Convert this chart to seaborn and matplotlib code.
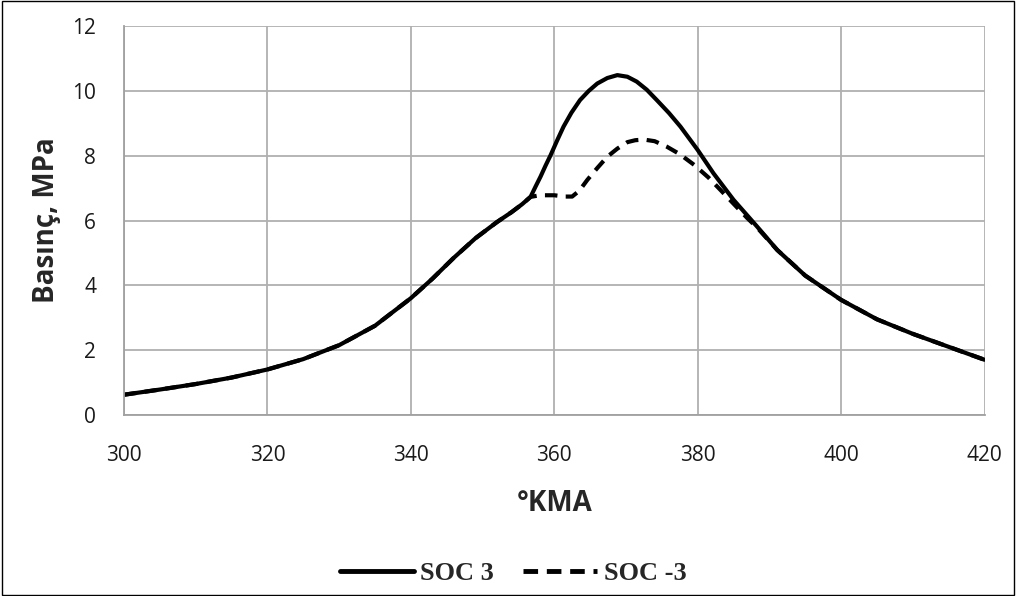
import numpy as np
import pandas as pd
import matplotlib
matplotlib.use("Agg")
import matplotlib.pyplot as plt
import seaborn as sns
from matplotlib.lines import Line2D

# Data
x_soc3 = [300, 305, 310, 315, 320, 325, 330, 335, 340, 343, 346, 349, 352, 354, 355.5, 356.7,
          357.4, 358.1, 358.8, 359.5, 360.4, 361.3, 362.4, 363.6, 364.8, 366, 367.4, 368.8,
          370.2, 371.5, 372.9, 374.3, 376, 377.6, 380, 382.2, 385, 388.3, 391.1,
          395, 400, 405, 410, 415, 420]
y_soc3 = [0.62, 0.78, 0.95, 1.15, 1.4, 1.72, 2.15, 2.75, 3.6, 4.2, 4.85, 5.45, 5.95, 6.25, 6.5, 6.73,
          7.05, 7.36, 7.7, 8.02, 8.47, 8.9, 9.33, 9.72, 10.0, 10.23, 10.4, 10.49,
          10.44, 10.29, 10.04, 9.72, 9.32, 8.9, 8.18, 7.46, 6.64, 5.81, 5.09,
          4.3, 3.55, 2.95, 2.5, 2.1, 1.7]

x_soc_m3 = [300, 305, 310, 315, 320, 325, 330, 335, 340, 343, 346, 349, 352, 354, 355.5, 356.7,
            358, 360, 361.5, 362.5, 363.5, 364.6, 366, 367.4, 368.8, 370.2, 371.3, 372.5,
            374, 375.7, 377.5, 379.5, 381.5, 383.2, 385, 386.9, 388.3, 391.1, 395, 400,
            405, 410, 415, 420]
y_soc_m3 = [0.62, 0.78, 0.95, 1.15, 1.4, 1.72, 2.15, 2.75, 3.6, 4.2, 4.85, 5.45, 5.95, 6.25, 6.5, 6.73,
            6.78, 6.78, 6.74, 6.74, 6.92, 7.25, 7.62, 7.97, 8.22, 8.42, 8.48, 8.5,
            8.45, 8.28, 8.05, 7.72, 7.33, 6.94, 6.52, 6.08, 5.78, 5.09, 4.3, 3.55,
            2.95, 2.5, 2.1, 1.7]

series_names = ["SOC 3", "SOC -3"]
x_ticks = [300, 320, 340, 360, 380, 400, 420]
y_ticks = [0, 2, 4, 6, 8, 10, 12]

df = pd.concat([
    pd.DataFrame({"x": x_soc3, "y": y_soc3, "s": series_names[0]}),
    pd.DataFrame({"x": x_soc_m3, "y": y_soc_m3, "s": series_names[1]}),
], ignore_index=True)

sns.set_style("white")
plt.rcParams["font.family"] = ["Open Sans", "DejaVu Sans"]

fig = plt.figure(figsize=(10.16, 5.96), dpi=100)
ax = fig.add_axes([0.122, 0.304, 0.847, 0.652])

sns.lineplot(data=df, x="x", y="y", hue="s", style="s", palette=["black", "black"],
             dashes={"SOC 3": "", "SOC -3": (3, 2)}, linewidth=3, sort=False,
             estimator=None, ax=ax, legend=False)
for ln in ax.get_lines():
    ln.set_solid_joinstyle("round")
    ln.set_dash_joinstyle("round")

ax.set_xlim(300, 420)
ax.set_ylim(0, 12)
ax.set_xticks(x_ticks)
ax.set_yticks(y_ticks)
ax.grid(True, color="#b0b0b0", linewidth=1.3)
for side in ["top", "right"]:
    ax.spines[side].set_visible(False)
for side in ["left", "bottom"]:
    ax.spines[side].set_color("#a0a0a0")
    ax.spines[side].set_linewidth(1.3)
ax.tick_params(axis="both", which="both", length=6, width=1.2, color="#a0a0a0",
               direction="out", labelsize=15, labelcolor="#1a1a1a")
ax.tick_params(axis="x", pad=16)
ax.tick_params(axis="y", pad=14)
ax.set_xlabel("°KMA", fontsize=20, fontweight="bold", labelpad=16)
ax.set_ylabel("Basınç, MPa", fontsize=20, fontweight="bold", labelpad=8)

# Legend
handles = [Line2D([], [], color="black", linewidth=3.5),
           Line2D([], [], color="black", linewidth=3.5, dashes=(3.0, 1.8))]
leg = fig.legend(handles, series_names, loc="center", bbox_to_anchor=(0.505, 0.038),
                 ncol=2, frameon=False, handlelength=2.8, handletextpad=0.25,
                 columnspacing=1.1, prop={"family": "Liberation Serif", "weight": "bold", "size": 19})

# Outer frame
fig.patches.append(plt.Rectangle((0.002, 0.002), 0.996, 0.996, transform=fig.transFigure,
                                 fill=False, edgecolor="black", linewidth=1))

fig.savefig("out.png", dpi=100)
